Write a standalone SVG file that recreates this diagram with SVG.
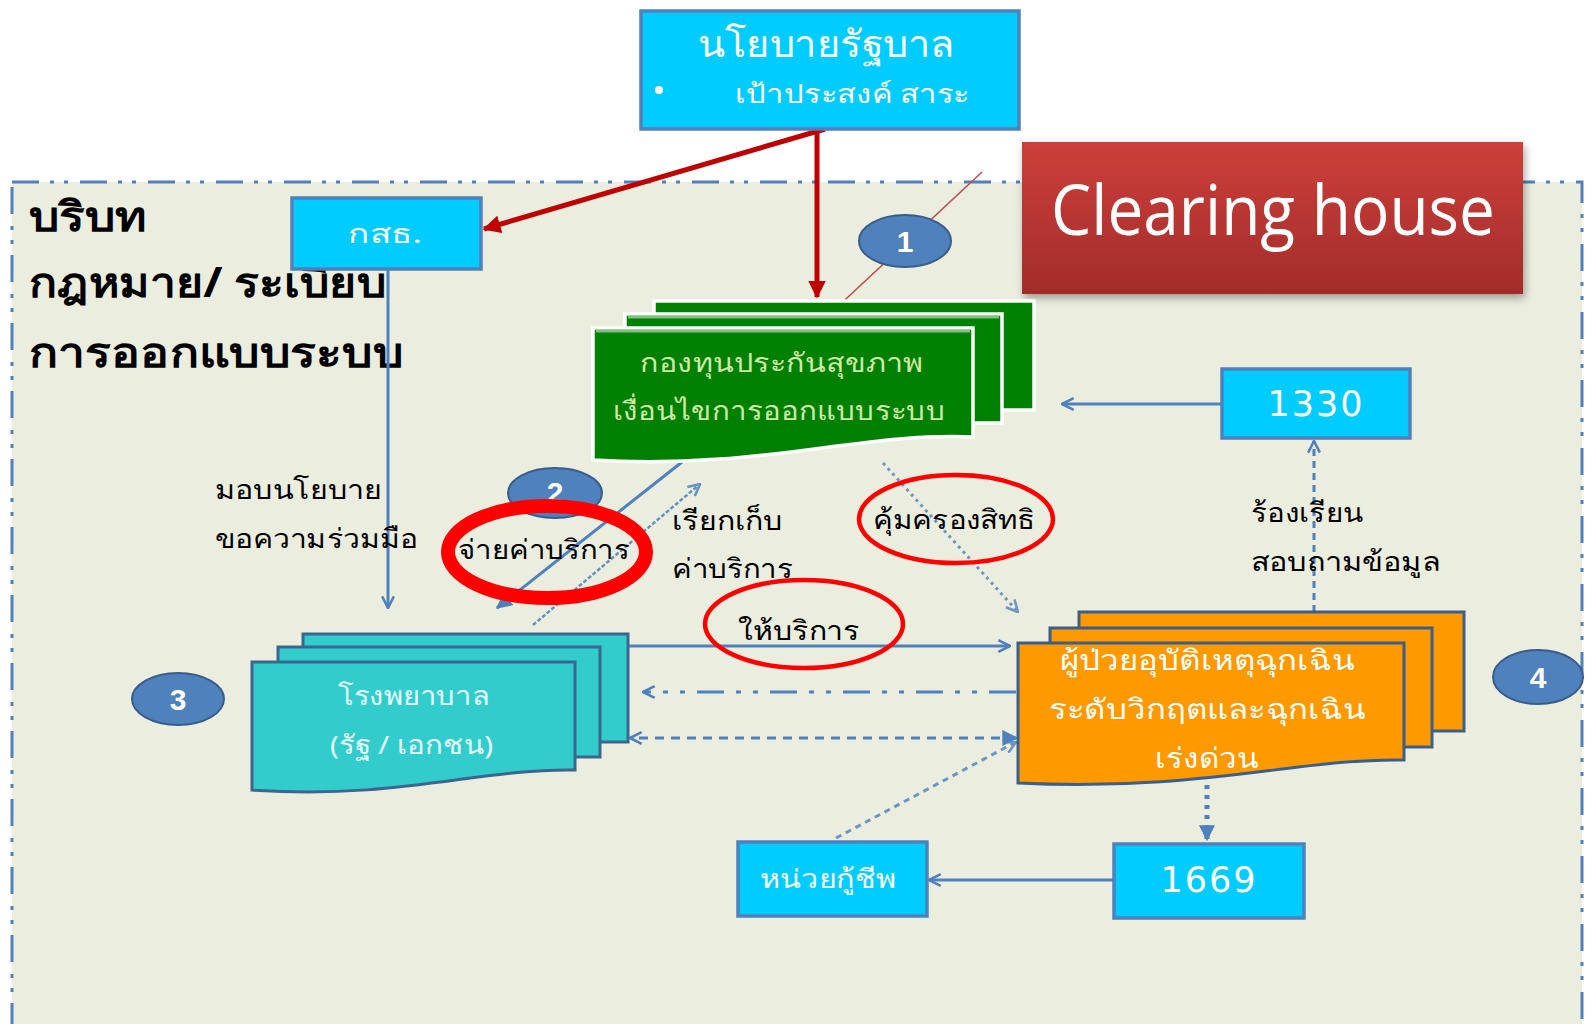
<svg xmlns="http://www.w3.org/2000/svg" width="1587" height="1024" viewBox="0 0 1587 1024">
<style>
.th{font-family:"Noto Sans","DejaVu Sans",sans-serif;}
.blk{fill:#000;font-size:27px;}
.ttl{fill:#000;font-size:41px;font-weight:bold;}
.wht{fill:#fff;}
.num{font-family:"DejaVu Sans",sans-serif;fill:#fff;font-size:35px;letter-spacing:2px;}
.cnum{font-family:"Liberation Sans",sans-serif;fill:#fff;font-size:30px;font-weight:bold;}
.bbox{fill:#00CCFF;stroke:#4F81BD;stroke-width:3.5;}
.circ{fill:#4F81BD;stroke:#385D8A;stroke-width:2;}
.ln{fill:none;stroke:#4F81BD;stroke-width:3;}
.dot{fill:none;stroke:#4F81BD;stroke-width:3;stroke-dasharray:3 4;opacity:0.8;}
.redov{fill:none;stroke:#FF0000;}
.grn{fill:#008000;stroke:#fff;stroke-width:3.5;}
.hosp{fill:#33CCCC;stroke:#3A6690;stroke-width:3;}
.org{fill:#FF9900;stroke:#3A5F8A;stroke-width:3;}
</style>
<defs>
<marker id="oa" viewBox="0 0 12 12" refX="11" refY="6" markerWidth="14" markerHeight="14" markerUnits="userSpaceOnUse" orient="auto">
<path d="M1,1 L11,6 L1,11" fill="none" stroke="#4F81BD" stroke-width="2.2"/>
</marker>
<marker id="fa" viewBox="0 0 12 12" refX="11" refY="6" markerWidth="16" markerHeight="16" markerUnits="userSpaceOnUse" orient="auto">
<path d="M0,0 L12,6 L0,12 Z" fill="#4F81BD"/>
</marker>
<marker id="ra" viewBox="0 0 12 12" refX="11" refY="6" markerWidth="18" markerHeight="18" markerUnits="userSpaceOnUse" orient="auto">
<path d="M0,0 L12,6 L0,12 Z" fill="#C00000"/>
</marker>
<linearGradient id="chg" x1="0" y1="0" x2="0" y2="1">
<stop offset="0" stop-color="#CD3F3B"/>
<stop offset="1" stop-color="#A22C29"/>
</linearGradient>
<filter id="sh" x="-10%" y="-10%" width="120%" height="130%">
<feDropShadow dx="2" dy="4" stdDeviation="4" flood-color="#000" flood-opacity="0.35"/>
</filter>
</defs>

<rect width="1587" height="1024" fill="#fff"/>

<g id="panel">
<rect x="12" y="182" width="1570" height="860" fill="#EBEEDF" stroke="#4F81BD" stroke-width="3" stroke-dasharray="27 11 4 10 4 12"/>
<text class="th ttl" x="29" y="231" textLength="118" lengthAdjust="spacingAndGlyphs">บริบท</text>
<text class="th ttl" x="29" y="297" textLength="357" lengthAdjust="spacingAndGlyphs">กฎหมาย/ ระเบียบ</text>
<text class="th ttl" x="29" y="367" textLength="374" lengthAdjust="spacingAndGlyphs">การออกแบบระบบ</text>
</g>

<g id="connectors">
<line x1="825" y1="129" x2="484" y2="229" stroke="#C00000" stroke-width="5" marker-end="url(#ra)"/>
<line x1="817" y1="129" x2="817" y2="297" stroke="#C00000" stroke-width="5" marker-end="url(#ra)"/>
<line x1="388" y1="270" x2="388" y2="608" class="ln" marker-end="url(#oa)"/>
<line x1="682" y1="462" x2="497" y2="608" class="ln" marker-end="url(#fa)"/>
<line x1="533" y1="625" x2="700" y2="484" fill="none" stroke="#4F81BD" stroke-width="2.5" stroke-dasharray="4 2" opacity="0.85" marker-end="url(#oa)"/>
<line x1="883" y1="463" x2="1018" y2="612" class="dot" marker-end="url(#oa)"/>
<line x1="628" y1="646" x2="1010" y2="646" class="ln" marker-end="url(#oa)"/>
<line x1="1016" y1="692" x2="643" y2="692" class="ln" stroke-dasharray="27 12 5 12 5 12" marker-end="url(#oa)"/>
<line x1="1016" y1="738" x2="630" y2="738" class="ln" stroke-dasharray="9 7" marker-end="url(#oa)"/>
<line x1="990" y1="738" x2="1017" y2="738" stroke="none" marker-end="url(#fa)"/>
<line x1="836" y1="838" x2="1016" y2="742" fill="none" stroke="#4F81BD" stroke-width="3" stroke-dasharray="6 5" opacity="0.8" marker-end="url(#oa)"/>
<line x1="1222" y1="404" x2="1062" y2="404" class="ln" marker-end="url(#oa)"/>
<line x1="1314" y1="612" x2="1314" y2="441" class="ln" stroke-dasharray="7 5" marker-end="url(#oa)"/>
<line x1="1207" y1="785" x2="1207" y2="840" fill="none" stroke="#4F81BD" stroke-width="5" stroke-dasharray="4 6" marker-end="url(#fa)"/>
<line x1="1114" y1="880" x2="929" y2="880" class="ln" marker-end="url(#oa)"/>
<line x1="982" y1="172" x2="832" y2="312" stroke="#C0504D" stroke-width="1.6"/>
</g>

<g id="policy">
<rect class="bbox" x="641" y="11" width="378" height="118"/>
<text class="th wht" x="698" y="57" font-size="37" textLength="257" lengthAdjust="spacingAndGlyphs">นโยบายรัฐบาล</text>
<circle cx="659" cy="90" r="4" fill="#fff"/>
<text class="th wht" x="735" y="103" font-size="26" textLength="235" lengthAdjust="spacingAndGlyphs">เป้าประสงค์ สาระ</text>
</g>

<g id="clearing">
<rect x="1022" y="142" width="501" height="152" fill="url(#chg)" filter="url(#sh)"/>
<text x="1051" y="235" font-family="'Open Sans','Liberation Sans',sans-serif" font-size="70" fill="#fff" textLength="444" lengthAdjust="spacingAndGlyphs">Clearing house</text>
</g>

<g id="ksth">
<rect class="bbox" x="292" y="198" width="189" height="71"/>
<text class="th wht" x="348" y="243" font-size="26" textLength="74" lengthAdjust="spacingAndGlyphs">กสธ.</text>
</g>

<g id="n1"><ellipse class="circ" cx="905" cy="241" rx="46" ry="26"/><text class="cnum" x="905" y="252" text-anchor="middle">1</text></g>
<g id="n2"><ellipse class="circ" cx="555" cy="493" rx="47" ry="25"/><text class="cnum" x="555" y="503" text-anchor="middle">2</text></g>
<g id="n3"><ellipse class="circ" cx="178" cy="699" rx="46" ry="26"/><text class="cnum" x="178" y="710" text-anchor="middle">3</text></g>
<g id="n4"><ellipse class="circ" cx="1538" cy="677" rx="45" ry="27"/><text class="cnum" x="1538" y="688" text-anchor="middle">4</text></g>

<g id="fund">
<rect class="grn" x="654" y="301" width="380" height="109"/>
<rect class="grn" x="625" y="314" width="377" height="109"/>
<path class="grn" d="M593,328 H973 V437 C 860,432 760,470 593,460 Z"/>
<line x1="596" y1="331" x2="970" y2="331" stroke="#80C080" stroke-width="3"/>
<line x1="628" y1="317" x2="999" y2="317" stroke="#80C080" stroke-width="3"/>
<text class="th" x="640" y="372" font-size="26" fill="#D0EAA8" textLength="283" lengthAdjust="spacingAndGlyphs">กองทุนประกันสุขภาพ</text>
<text class="th" x="613" y="420" font-size="26" fill="#D0EAA8" textLength="332" lengthAdjust="spacingAndGlyphs">เงื่อนไขการออกแบบระบบ</text>
</g>

<g id="hotline1330">
<rect class="bbox" x="1222" y="369" width="188" height="69"/>
<text class="num" x="1316" y="416" text-anchor="middle">1330</text>
</g>

<g id="labels">
<text class="th blk" x="215" y="499" textLength="167" lengthAdjust="spacingAndGlyphs">มอบนโยบาย</text>
<text class="th blk" x="215" y="548" textLength="203" lengthAdjust="spacingAndGlyphs">ขอความร่วมมือ</text>
<text class="th blk" x="672" y="530" textLength="110" lengthAdjust="spacingAndGlyphs">เรียกเก็บ</text>
<text class="th blk" x="672" y="578" textLength="121" lengthAdjust="spacingAndGlyphs">ค่าบริการ</text>
<text class="th blk" x="1251" y="522" textLength="112" lengthAdjust="spacingAndGlyphs">ร้องเรียน</text>
<text class="th blk" x="1251" y="571" textLength="190" lengthAdjust="spacingAndGlyphs">สอบถามข้อมูล</text>
</g>

<g id="pay">
<ellipse class="redov" cx="547" cy="552" rx="99" ry="46" stroke-width="14"/>
<text class="th blk" x="458" y="559" textLength="172" lengthAdjust="spacingAndGlyphs">จ่ายค่าบริการ</text>
</g>

<g id="protect">
<ellipse class="redov" cx="956" cy="519" rx="97" ry="44" stroke-width="4.5"/>
<text class="th blk" x="873" y="529" textLength="162" lengthAdjust="spacingAndGlyphs">คุ้มครองสิทธิ</text>
</g>

<g id="service">
<ellipse class="redov" cx="804" cy="624" rx="99" ry="44" stroke-width="4.5"/>
<text class="th blk" x="738" y="640" textLength="122" lengthAdjust="spacingAndGlyphs">ให้บริการ</text>
</g>

<g id="hospital">
<rect class="hosp" x="303" y="634" width="325" height="108"/>
<rect class="hosp" x="278" y="647" width="322" height="110"/>
<path class="hosp" d="M252,662 H575 V770 C 480,768 400,800 252,790 Z"/>
<text class="th" x="338" y="705" font-size="26" fill="#E6FFFF" textLength="152" lengthAdjust="spacingAndGlyphs">โรงพยาบาล</text>
<text class="th" x="330" y="754" font-size="26" fill="#E6FFFF" textLength="163" lengthAdjust="spacingAndGlyphs">(รัฐ / เอกชน)</text>
</g>

<g id="patient">
<rect class="org" x="1079" y="612" width="385" height="119"/>
<rect class="org" x="1050" y="628" width="382" height="119"/>
<path class="org" d="M1018,643 H1404 V760 C 1300,758 1200,792 1018,783 Z"/>
<text class="th wht" x="1060" y="670" font-size="28" textLength="294" lengthAdjust="spacingAndGlyphs">ผู้ป่วยอุบัติเหตุฉุกเฉิน</text>
<text class="th wht" x="1049" y="719" font-size="28" textLength="316" lengthAdjust="spacingAndGlyphs">ระดับวิกฤตและฉุกเฉิน</text>
<text class="th wht" x="1155" y="768" font-size="28" textLength="103" lengthAdjust="spacingAndGlyphs">เร่งด่วน</text>
</g>

<g id="rescue">
<rect class="bbox" x="738" y="842" width="189" height="74"/>
<text class="th wht" x="760" y="888" font-size="26" textLength="136" lengthAdjust="spacingAndGlyphs">หน่วยกู้ชีพ</text>
</g>

<g id="hotline1669">
<rect class="bbox" x="1114" y="844" width="190" height="74"/>
<text class="num" x="1209" y="892" text-anchor="middle">1669</text>
</g>
</svg>
